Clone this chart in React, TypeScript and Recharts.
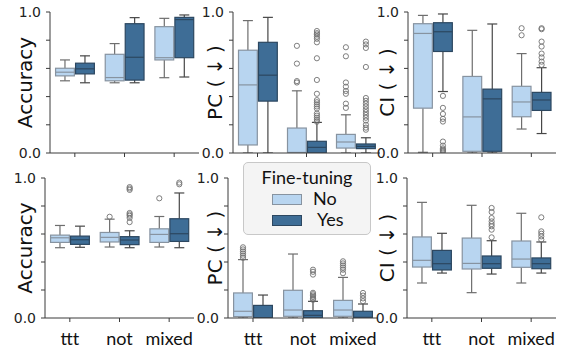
import React from 'react';
import { BarChart, Bar, XAxis, YAxis } from 'recharts';

const CATEGORIES = ['ttt', 'not', 'mixed'];

// each box: [whisker low, q1, median, q3, whisker high], one per category
const ACC_TOP_NO = [[0.512, 0.547, 0.573, 0.601, 0.66], [0.498, 0.512, 0.535, 0.7, 0.776], [0.534, 0.66, 0.676, 0.896, 0.955]];
const ACC_TOP_YES = [[0.498, 0.561, 0.597, 0.637, 0.689], [0.498, 0.517, 0.679, 0.917, 0.96], [0.539, 0.676, 0.946, 0.962, 0.979]];
const PC_TOP_NO = [[0.0, 0.057, 0.483, 0.729, 0.939], [0.0, 0.0, 0.004, 0.177, 0.441], [0.0, 0.035, 0.078, 0.132, 0.271]];
const PC_TOP_YES = [[0.0, 0.368, 0.552, 0.785, 0.962], [0.0, 0.0, 0.04, 0.083, 0.217], [0.0, 0.031, 0.047, 0.064, 0.108]];
const CI_TOP_NO = [[0.005, 0.318, 0.848, 0.917, 0.976], [0.0, 0.012, 0.256, 0.543, 0.87], [0.17, 0.257, 0.362, 0.473, 0.705]];
const CI_TOP_YES = [[0.436, 0.72, 0.86, 0.924, 0.986], [0.0, 0.012, 0.384, 0.453, 0.915], [0.138, 0.302, 0.376, 0.43, 0.605]];

const ACC_BOT_NO = [[0.502, 0.54, 0.573, 0.592, 0.661], [0.507, 0.543, 0.576, 0.611, 0.706], [0.507, 0.54, 0.597, 0.637, 0.725]];
const ACC_BOT_YES = [[0.505, 0.526, 0.559, 0.585, 0.656], [0.502, 0.524, 0.557, 0.581, 0.623], [0.502, 0.547, 0.602, 0.709, 0.893]];
const PC_BOT_NO = [[0.0, 0.01, 0.048, 0.179, 0.417], [0.0, 0.012, 0.057, 0.198, 0.457], [0.0, 0.012, 0.057, 0.126, 0.29]];
const PC_BOT_YES = [[0.0, 0.0, 0.003, 0.09, 0.164], [0.0, 0.0, 0.019, 0.052, 0.119], [0.0, 0.0, 0.005, 0.048, 0.1]];
const CI_BOT_NO = [[0.25, 0.364, 0.412, 0.579, 0.826], [0.181, 0.35, 0.39, 0.571, 0.805], [0.25, 0.362, 0.421, 0.55, 0.748]];
const CI_BOT_YES = [[0.321, 0.343, 0.388, 0.483, 0.605], [0.314, 0.355, 0.388, 0.443, 0.552], [0.321, 0.352, 0.388, 0.429, 0.543]];

// outliers, one list per category
const NONE = [[], [], []];
const PC_TOP_NO_OUT = [[], [0.76, 0.634, 0.51, 0.5], [0.75, 0.686, 0.5, 0.47, 0.44, 0.42, 0.35, 0.32]];
const PC_TOP_YES_OUT = [[], [0.865, 0.85, 0.84, 0.825, 0.81, 0.785, 0.672, 0.518, 0.42, 0.375, 0.36, 0.345, 0.33, 0.315, 0.28, 0.265, 0.25, 0.235, 0.222],
  [0.79, 0.77, 0.745, 0.61, 0.39, 0.37, 0.35, 0.33, 0.31, 0.29, 0.27, 0.25, 0.23, 0.2, 0.18, 0.165]];
const CI_TOP_NO_OUT = [[], [], [0.885, 0.835]];
const CI_TOP_YES_OUT = [[0.405, 0.32, 0.277, 0.242, 0.223, 0.081, 0.052, 0.033, 0.024, 0.017, 0.009], [], [0.885, 0.878, 0.79, 0.755, 0.705, 0.678, 0.648, 0.625]];
const ACC_BOT_NO_OUT = [[], [0.723], [0.855]];
const ACC_BOT_YES_OUT = [[], [0.935, 0.925, 0.915, 0.75, 0.74, 0.73, 0.715, 0.685], [0.967, 0.955]];
const PC_BOT_NO_OUT = [[0.505, 0.49, 0.475, 0.46, 0.445, 0.43], [], [0.405, 0.39, 0.375, 0.36, 0.345, 0.32]];
const PC_BOT_YES_OUT = [[], [0.345, 0.33, 0.31, 0.18, 0.17, 0.16, 0.15, 0.14, 0.13], [0.179, 0.16, 0.14, 0.12]];
const CI_BOT_YES_OUT = [[], [0.786, 0.757, 0.714, 0.69, 0.671, 0.655, 0.631, 0.576], [0.719, 0.619, 0.602, 0.583, 0.56]];

const Y_TICKS = [0, 0.2, 0.4, 0.6, 0.8, 1.0];

const LIGHT = { fill: '#b8d5f0', edge: '#8793a0', whisker: '#6e6e6e' };
const DARK = { fill: '#3e6d96', edge: '#2c4760', whisker: '#474747' };

const PANELS = [
  { left: 50, top: 12, w: 149, h: 141, no: ACC_TOP_NO, yes: ACC_TOP_YES, noOut: NONE, yesOut: NONE, label: ['Accuracy'], labelX: 25, showX: false },
  { left: 233, top: 12, w: 147, h: 141, no: PC_TOP_NO, yes: PC_TOP_YES, noOut: PC_TOP_NO_OUT, yesOut: PC_TOP_YES_OUT, label: ['PC (', '↓', ')'], labelX: 215, showX: false },
  { left: 408, top: 12, w: 148, h: 141, no: CI_TOP_NO, yes: CI_TOP_YES, noOut: CI_TOP_NO_OUT, yesOut: CI_TOP_YES_OUT, label: ['CI (', '↓', ')'], labelX: 387, showX: false },
  { left: 45, top: 178, w: 149, h: 140, no: ACC_BOT_NO, yes: ACC_BOT_YES, noOut: ACC_BOT_NO_OUT, yesOut: ACC_BOT_YES_OUT, label: ['Accuracy'], labelX: 25, showX: true },
  { left: 228, top: 178, w: 150, h: 140, no: PC_BOT_NO, yes: PC_BOT_YES, noOut: PC_BOT_NO_OUT, yesOut: PC_BOT_YES_OUT, label: ['PC (', '↓', ')'], labelX: 215, showX: true },
  { left: 407, top: 178, w: 149, h: 140, no: CI_BOT_NO, yes: CI_BOT_YES, noOut: NONE, yesOut: CI_BOT_YES_OUT, label: ['CI (', '↓', ')'], labelX: 387, showX: true },
];

// box drawn inside the bar that spans the whiskers; other values mapped from the bar's own pixel range
const makeBoxShape = (key: 'no' | 'yes', colors: typeof LIGHT) => (props: any) => {
  const { x, y, width, height, payload } = props;
  const s: number[] = payload[key];
  const outs: number[] = payload[key + 'Out'];
  const top = Math.min(y, y + height);
  const bot = Math.max(y, y + height);
  const py = (v: number) => bot - ((v - s[0]) / (s[4] - s[0])) * (bot - top);
  const cx = x + width / 2;
  const cap = width / 4;
  return (
    <g>
      <line x1={cx} x2={cx} y1={py(s[3])} y2={py(s[4])} stroke={colors.whisker} strokeWidth={1.2} />
      <line x1={cx} x2={cx} y1={py(s[1])} y2={py(s[0])} stroke={colors.whisker} strokeWidth={1.2} />
      <line x1={cx - cap} x2={cx + cap} y1={py(s[4])} y2={py(s[4])} stroke={colors.whisker} strokeWidth={1.2} />
      <line x1={cx - cap} x2={cx + cap} y1={py(s[0])} y2={py(s[0])} stroke={colors.whisker} strokeWidth={1.2} />
      <rect x={x + 0.6} y={py(s[3])} width={width - 1.2} height={Math.max(0.5, py(s[1]) - py(s[3]))} fill={colors.fill} stroke={colors.edge} strokeWidth={1.2} />
      <line x1={x + 0.6} x2={x + width - 0.6} y1={py(s[2])} y2={py(s[2])} stroke={colors.edge} strokeWidth={1.2} />
      {outs.map((v, i) => (
        <circle key={i} cx={cx} cy={py(v)} r={2.6} fill="none" stroke="#707070" strokeWidth={0.9} />
      ))}
    </g>
  );
};

const noShape = makeBoxShape('no', LIGHT);
const yesShape = makeBoxShape('yes', DARK);

function Panel({ cfg }: { cfg: (typeof PANELS)[number] }) {
  const ML = 60, MT = 8, MR = 6, XH = 34;
  const chartLeft = cfg.left - ML;
  const data = CATEGORIES.map((cat, i) => ({
    cat,
    no: cfg.no[i],
    yes: cfg.yes[i],
    noOut: cfg.noOut[i],
    yesOut: cfg.yesOut[i],
  }));
  const renderLabel = (p: any) => {
    const vb = p.viewBox || {};
    const cy = (vb.y ?? MT) + (vb.height ?? cfg.h) / 2;
    const lx = cfg.labelX - chartLeft;
    return (
      <text x={lx} y={cy} transform={`rotate(-90 ${lx} ${cy})`} textAnchor="middle" dominantBaseline="central"
        fontFamily="DejaVu Sans" fontSize={20} fill="#111">
        {cfg.label.map((part, i) => (
          <tspan key={i} dx={i > 0 ? 5 : 0}>{part}</tspan>
        ))}
      </text>
    );
  };
  return (
    <div style={{ position: 'absolute', left: chartLeft, top: cfg.top - MT }}>
      <BarChart width={ML + cfg.w + MR} height={MT + cfg.h + XH} data={data}
        margin={{ top: MT, right: MR, left: 0, bottom: 0 }} barGap={0} barCategoryGap="10%">
        <XAxis dataKey="cat" height={XH} interval={0} tickSize={4} tickMargin={10}
          axisLine={{ stroke: '#3a3a3a' }} tickLine={{ stroke: '#3a3a3a' }}
          tickFormatter={cfg.showX ? undefined : () => ''}
          tick={{ fontFamily: 'Lato', fontSize: 18, fill: '#111' }} />
        <XAxis dataKey="cat" xAxisId="top" orientation="top" height={0} tick={false} tickLine={false}
          axisLine={{ stroke: '#d4d4d4' }} />
        <YAxis domain={[0, 1]} ticks={Y_TICKS} width={ML} tickSize={4} tickMargin={5} allowDataOverflow
          axisLine={{ stroke: '#3a3a3a' }} tickLine={{ stroke: '#3a3a3a' }}
          tickFormatter={(v: number) => (v === 0 ? '0.0' : v === 1 ? '1.0' : '')}
          tick={{ fontFamily: 'DejaVu Sans', fontSize: 14, fill: '#222' }}
          label={{ content: renderLabel }} />
        <YAxis yAxisId="right" orientation="right" domain={[0, 1]} width={0} tick={false} tickLine={false}
          axisLine={{ stroke: '#d4d4d4' }} />
        <Bar dataKey={(d: any) => [d.no[0], d.no[4]]} shape={noShape} isAnimationActive={false} />
        <Bar dataKey={(d: any) => [d.yes[0], d.yes[4]]} shape={yesShape} isAnimationActive={false} />
      </BarChart>
    </div>
  );
}

function LegendBox() {
  const patch = (c: typeof LIGHT) => ({
    position: 'absolute' as const, width: 28, height: 9, background: c.fill, border: `1px solid ${c.edge}`,
  });
  return (
    <div style={{
      position: 'absolute', left: 243, top: 162, width: 126, height: 71, border: '1px solid #c8c8c8',
      borderRadius: 5, background: 'rgba(243,243,243,0.95)', fontFamily: 'Lato', color: '#111', zIndex: 5,
    }}>
      <div style={{ position: 'absolute', left: 0, right: 0, top: 3, textAlign: 'center', fontSize: 18 }}>Fine-tuning</div>
      <div style={{ ...patch(LIGHT), left: 28, top: 31 }} />
      <div style={{ position: 'absolute', left: 69, top: 24, fontSize: 18 }}>No</div>
      <div style={{ ...patch(DARK), left: 28, top: 52 }} />
      <div style={{ position: 'absolute', left: 73, top: 45, fontSize: 18 }}>Yes</div>
    </div>
  );
}

export default function App() {
  return (
    <div style={{ position: 'absolute', left: 0, top: 0, width: 565, height: 348, background: '#fff', overflow: 'hidden' }}>
      {PANELS.map((p, i) => (
        <Panel key={i} cfg={p} />
      ))}
      <LegendBox />
    </div>
  );
}
